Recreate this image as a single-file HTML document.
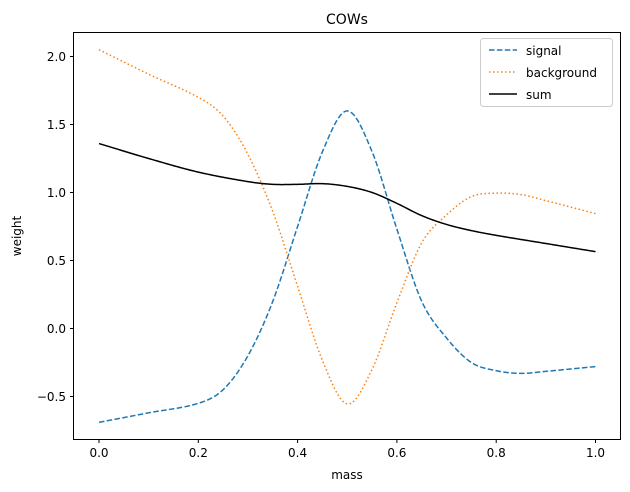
<!DOCTYPE html><html><head><style>body{margin:0;background:#fff}svg{display:block}text{font-family:"DejaVu Sans","Liberation Sans",sans-serif;fill:#000}</style></head><body>
<svg id="s" width="630" height="492" xmlns="http://www.w3.org/2000/svg">
<rect width="630" height="492" fill="#fff"/>
<g id="curves"></g>
<rect x="73.5" y="32.5" width="547" height="407" fill="none" stroke="#000" stroke-width="1"/>
<g font-size="12" text-anchor="end" id="yt"></g>
<g font-size="12" text-anchor="middle" id="xt"></g>
<text x="347" y="24" font-size="14" text-anchor="middle">COWs</text>
<text x="347" y="479" font-size="12" text-anchor="middle">mass</text>
<text transform="translate(21,236) rotate(-90)" font-size="12" text-anchor="middle">weight</text>
<rect x="480.5" y="38.5" width="132" height="68" rx="3" fill="#fff" fill-opacity="0.8" stroke="#ccc"/>
<line x1="489" y1="50" x2="517" y2="50" stroke="#1f77b4" stroke-width="1.5" stroke-dasharray="5.5,2.4"/>
<line x1="489" y1="72" x2="517" y2="72" stroke="#ff7f0e" stroke-width="1.5" stroke-dasharray="1.5,2.5"/>
<line x1="489" y1="94" x2="517" y2="94" stroke="#000" stroke-width="1.5"/>
<text x="526" y="55" font-size="12">signal</text>
<text x="526" y="77" font-size="12">background</text>
<text x="526" y="99" font-size="12">sum</text>
</svg>
<script>
const X=m=>99+m*496.5, Y=v=>56.5+(2-v)*136;
const sig=[[0,-0.69],[0.1,-0.62],[0.2,-0.55],[0.25,-0.45],[0.3,-0.2],[0.35,0.2],[0.4,0.75],[0.45,1.3],[0.5,1.6],[0.55,1.3],[0.6,0.73],[0.65,0.2],[0.7,-0.07],[0.75,-0.25],[0.8,-0.31],[0.85,-0.33],[0.9,-0.315],[1.0,-0.28]];
const sum=[[0,1.36],[0.1,1.25],[0.2,1.15],[0.3,1.08],[0.35,1.06],[0.4,1.06],[0.45,1.065],[0.5,1.045],[0.55,1.0],[0.6,0.92],[0.65,0.83],[0.7,0.765],[0.75,0.72],[0.8,0.685],[0.9,0.625],[1.0,0.565]];
function interp(p,m){let i=0;while(i<p.length-2&&m>p[i+1][0])i++;
const p0=p[Math.max(i-1,0)],p1=p[i],p2=p[i+1],p3=p[Math.min(i+2,p.length-1)];
const h=p2[0]-p1[0],t=(m-p1[0])/h;
const m1=(p2[1]-p0[1])/(p2[0]-p0[0])*h,m2=(p3[1]-p1[1])/(p3[0]-p1[0])*h;
const t2=t*t,t3=t2*t;
return (2*t3-3*t2+1)*p1[1]+(t3-2*t2+t)*m1+(-2*t3+3*t2)*p2[1]+(t3-t2)*m2;}
let a=[],b=[],c=[];
for(let k=0;k<=300;k++){const m=k/300,s=interp(sig,m),u=interp(sum,m);
a.push(X(m).toFixed(2)+","+Y(s).toFixed(2));b.push(X(m).toFixed(2)+","+Y(u-s).toFixed(2));c.push(X(m).toFixed(2)+","+Y(u).toFixed(2));}
const g=document.getElementById("curves");
g.innerHTML=`<polyline points="${a.join(" ")}" fill="none" stroke="#1f77b4" stroke-width="1.5" stroke-dasharray="5.5,2.4"/>
<polyline points="${b.join(" ")}" fill="none" stroke="#ff7f0e" stroke-width="1.5" stroke-dasharray="1.5,2.5"/>
<polyline points="${c.join(" ")}" fill="none" stroke="#000" stroke-width="1.5"/>`;
let yt="",xt="";
[-0.5,0,0.5,1,1.5,2].forEach(v=>{const y=Y(v);yt+=`<line x1="70" x2="73.5" y1="${y}" y2="${y}" stroke="#000"/><text x="66" y="${y+4.5}">${v<0?"\u2212":""}${Math.abs(v).toFixed(1)}</text>`;});
[0,0.2,0.4,0.6,0.8,1].forEach(m=>{const x=X(m);xt+=`<line x1="${x}" x2="${x}" y1="439.5" y2="443" stroke="#000"/><text x="${x}" y="457">${m.toFixed(1)}</text>`;});
document.getElementById("yt").innerHTML=yt;document.getElementById("xt").innerHTML=xt;
</script>
</body></html>
